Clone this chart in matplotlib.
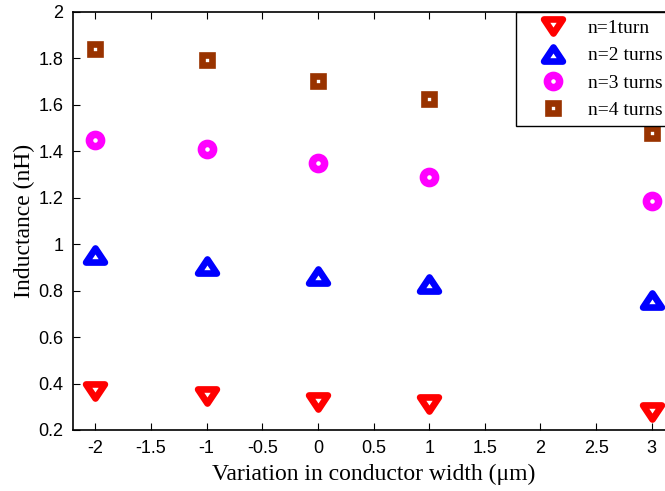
import matplotlib
matplotlib.use("Agg")
import matplotlib.pyplot as plt
from matplotlib.path import Path
from matplotlib.markers import MarkerStyle
from matplotlib.ticker import FuncFormatter

# variation in conductor width (um)
width_var = [-2, -1, 0, 1, 3]

# inductance (nH) for each number of turns
L_1turn = [0.370, 0.346, 0.321, 0.310, 0.279]
L_2turns = [0.955, 0.905, 0.865, 0.830, 0.760]
L_3turns = [1.449, 1.408, 1.350, 1.289, 1.186]
L_4turns = [1.840, 1.793, 1.703, 1.625, 1.479]

labels = ["n=1turn", "n=2 turns", "n=3 turns", "n=4 turns"]


def triangle(up):
    s = 1 if up else -1
    verts = [(-1, -0.75 * s), (1, -0.75 * s), (0, 0.75 * s), (0, 0)]
    codes = [Path.MOVETO, Path.LINETO, Path.LINETO, Path.CLOSEPOLY]
    return MarkerStyle(Path(verts, codes), joinstyle="miter")


fig = plt.figure(figsize=(6.65, 4.91), dpi=100)
# right edge of the axes lies just outside the picture (cropped original)
ax = fig.add_axes([73 / 665, 1 - 430 / 491, 601 / 665, 418 / 491])

style = dict(linestyle="none", markerfacecolor="white")
ax.plot(width_var, L_1turn, marker=triangle(False), color="#ff0000",
        markeredgecolor="#ff0000", markersize=13.5, markeredgewidth=4.8,
        label=labels[0], **style)
ax.plot(width_var, L_2turns, marker=triangle(True), color="#0000ff",
        markeredgecolor="#0000ff", markersize=13.5, markeredgewidth=4.8,
        label=labels[1], **style)
ax.plot(width_var, L_3turns, marker="o", color="#ff00ff", markeredgecolor="#ff00ff",
        markersize=8.8, markeredgewidth=5.4, label=labels[2], **style)
ax.plot(width_var, L_4turns, marker="s", color="#993300", markeredgecolor="#993300",
        markersize=7.5, markeredgewidth=4.8, label=labels[3], **style)

ax.set_xlim(-2.2, 3.2)
ax.set_ylim(0.2, 2.0)
ax.set_xticks([-2, -1.5, -1, -0.5, 0, 0.5, 1, 1.5, 2, 2.5, 3])
ax.set_yticks([0.2, 0.4, 0.6, 0.8, 1.0, 1.2, 1.4, 1.6, 1.8, 2.0])
fmt = FuncFormatter(lambda v, p: "%g" % v)
ax.xaxis.set_major_formatter(fmt)
ax.yaxis.set_major_formatter(fmt)
ax.tick_params(direction="in", top=True, right=True, length=5, width=0.8,
               labelsize=13, pad=7)
for lab in ax.get_xticklabels() + ax.get_yticklabels():
    lab.set_fontfamily("Liberation Sans")
for sp in ax.spines.values():
    sp.set_linewidth(1.2)

ax.set_xlabel("Variation in conductor width (\u03bcm)", fontfamily="Liberation Serif",
              fontsize=17, labelpad=5)
ax.set_ylabel("Inductance (nH)", fontfamily="Liberation Serif", fontsize=17, labelpad=2)

leg = ax.legend(loc="upper right", bbox_to_anchor=(1.0 - 4 / 601, 1.0), fancybox=False,
                edgecolor="black", framealpha=1, borderaxespad=0,
                prop={"family": "Liberation Serif", "size": 14},
                handletextpad=0.3, labelspacing=0.5, borderpad=0.38,
                handlelength=3.0)
leg.get_frame().set_linewidth(1.0)

fig.savefig("out.png", dpi=100)
